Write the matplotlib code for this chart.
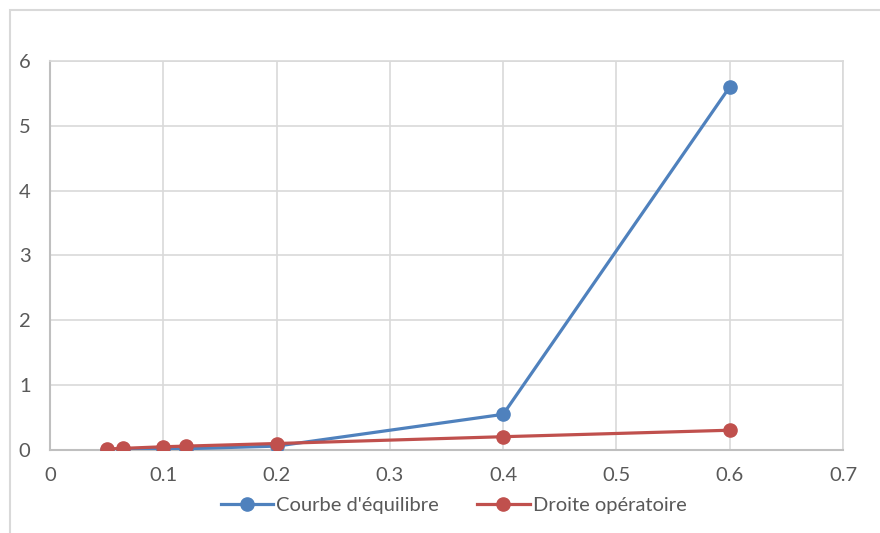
import matplotlib.pyplot as plt
from matplotlib.patches import Rectangle

# concentrations (fractions) and the two curves
x_vals = [0.05, 0.064, 0.1, 0.12, 0.2, 0.4, 0.6]
equilibre = [0.002, 0.005, 0.015, 0.02, 0.06, 0.55, 5.6]
operatoire = [0.015, 0.025, 0.05, 0.06, 0.1, 0.205, 0.305]

x_ticks = [0, 0.1, 0.2, 0.3, 0.4, 0.5, 0.6, 0.7]
y_ticks = [0, 1, 2, 3, 4, 5, 6]

plt.rcParams["font.family"] = ["Lato", "DejaVu Sans"]

fig = plt.figure(figsize=(8.8, 5.33), dpi=100)
fig.patches.append(Rectangle((10 / 880, -0.1), 1.2, 1 - 10 / 533 + 0.1,
                             transform=fig.transFigure, fill=False,
                             edgecolor="#D9D9D9", linewidth=1.5))

ax = fig.add_axes([50 / 880, 83 / 533, 793 / 880, 389 / 533])

ax.plot(x_vals, equilibre, "o-", color="#4F81BD", linewidth=2.3,
        markersize=9.5, label="Courbe d'équilibre", zorder=3)
ax.plot(x_vals, operatoire, "o-", color="#C0504D", linewidth=2.3,
        markersize=9.5, label="Droite opératoire", zorder=4)

ax.set_xlim(0, 0.7)
ax.set_ylim(0, 6)
ax.set_xticks(x_ticks)
ax.set_xticklabels([f"{t:g}" for t in x_ticks])
ax.set_yticks(y_ticks)
ax.grid(color="#D9D9D9", linewidth=1.2)
ax.set_axisbelow(True)

for side in ["top", "right"]:
    ax.spines[side].set_color("#D9D9D9")
    ax.spines[side].set_linewidth(1.2)
for side in ["left", "bottom"]:
    ax.spines[side].set_color("#BFBFBF")
    ax.spines[side].set_linewidth(1.5)

ax.tick_params(length=0, labelsize=14.5, labelcolor="#595959")
ax.tick_params(axis="x", pad=12)
ax.tick_params(axis="y", pad=14)

ax.legend(loc="upper center", bbox_to_anchor=(0.509, -0.075), ncol=2,
          frameon=False, fontsize=14.5, labelcolor="#595959",
          handlelength=2.6, handletextpad=0.15, columnspacing=1.9)

plt.savefig("out.png", dpi=100)
plt.close()
